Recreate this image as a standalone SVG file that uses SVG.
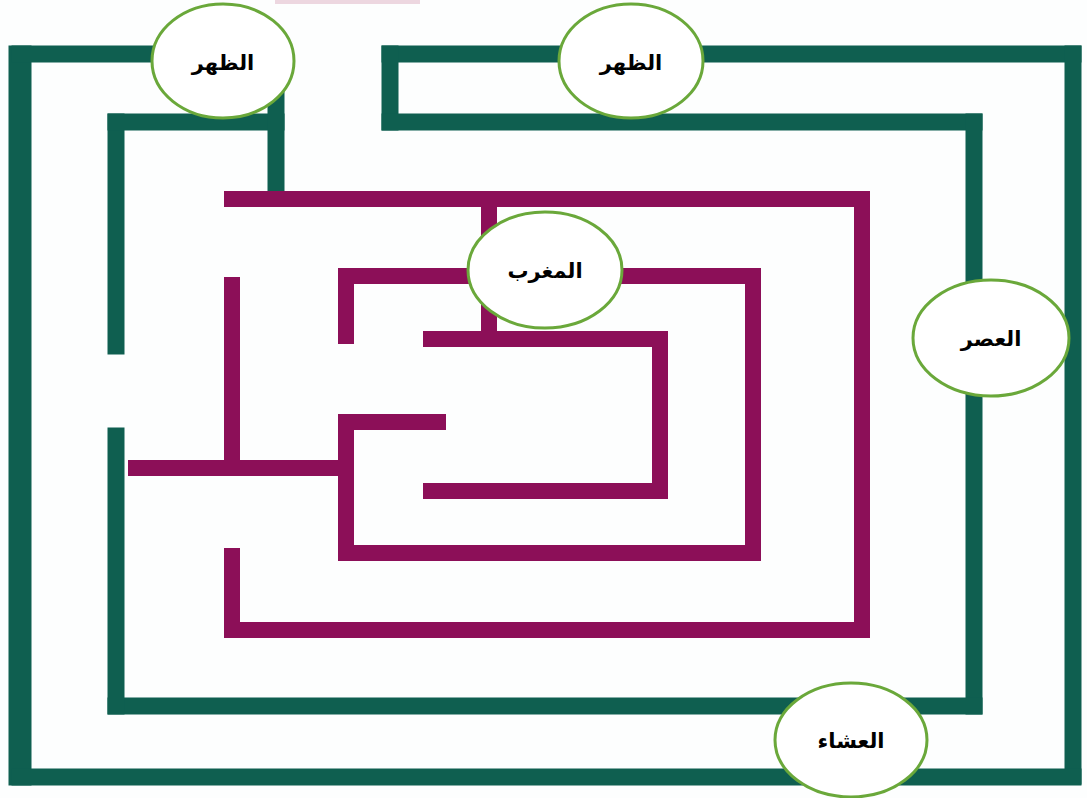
<svg xmlns="http://www.w3.org/2000/svg" width="1087" height="798" viewBox="0 0 1087 798">
<style>
.t{stroke:#0f5f50;stroke-width:17;fill:none;stroke-linecap:square}
.m{stroke:#8c0f58;stroke-width:16;fill:none;stroke-linecap:square}
.n ellipse{fill:#ffffff;stroke:#6aa83a;stroke-width:3}
.n text{font-family:"DejaVu Sans","Noto Sans",sans-serif;font-weight:bold;font-size:21px;fill:#000;text-anchor:middle;dominant-baseline:central}
</style>
<rect width="1087" height="798" fill="#fdfefe"/>
<rect x="275" y="0" width="145" height="4" fill="#e2bccb" opacity="0.6"/>
<g id="connectors">
<g id="teal-walls">
<line class="t" x1="20" y1="57" x2="20" y2="774" style="stroke-width:23"/>
<line class="t" x1="20" y1="54" x2="280" y2="54"/>
<line class="t" x1="390" y1="54" x2="1073" y2="54"/>
<line class="t" x1="1073" y1="54" x2="1073" y2="776"/>
<line class="t" x1="20" y1="777" x2="1073" y2="777"/>
<line class="t" x1="390" y1="54" x2="390" y2="122"/>
<line class="t" x1="390" y1="122" x2="974" y2="122"/>
<line class="t" x1="974" y1="122" x2="974" y2="706"/>
<line class="t" x1="116" y1="706" x2="974" y2="706"/>
<line class="t" x1="116" y1="436" x2="116" y2="706"/>
<line class="t" x1="116" y1="122" x2="116" y2="346"/>
<line class="t" x1="116" y1="122" x2="276" y2="122"/>
<line class="t" x1="276" y1="54" x2="276" y2="190"/>
</g>
<g id="magenta-walls">
<line class="m" x1="232" y1="199" x2="862" y2="199"/>
<line class="m" x1="862" y1="199" x2="862" y2="630"/>
<line class="m" x1="232" y1="630" x2="862" y2="630"/>
<line class="m" x1="232" y1="556" x2="232" y2="630"/>
<line class="m" x1="232" y1="285" x2="232" y2="468"/>
<line class="m" x1="136" y1="468" x2="346" y2="468"/>
<line class="m" x1="346" y1="276" x2="753" y2="276"/>
<line class="m" x1="346" y1="276" x2="346" y2="336"/>
<line class="m" x1="753" y1="276" x2="753" y2="553"/>
<line class="m" x1="346" y1="553" x2="753" y2="553"/>
<line class="m" x1="346" y1="422" x2="346" y2="553"/>
<line class="m" x1="346" y1="422" x2="438" y2="422"/>
<line class="m" x1="489" y1="199" x2="489" y2="339"/>
<line class="m" x1="431" y1="339" x2="660" y2="339"/>
<line class="m" x1="660" y1="339" x2="660" y2="491"/>
<line class="m" x1="431" y1="491" x2="660" y2="491"/>
</g>
</g>
<g id="node-dhuhr-1" class="n">
<ellipse cx="223" cy="61" rx="71" ry="57"/>
<text x="223" y="63">الظهر</text>
</g>
<g id="node-dhuhr-2" class="n">
<ellipse cx="631" cy="61" rx="72" ry="57"/>
<text x="631" y="63">الظهر</text>
</g>
<g id="node-maghrib" class="n">
<ellipse cx="545" cy="270" rx="77" ry="58"/>
<text x="545" y="271">المغرب</text>
</g>
<g id="node-asr" class="n">
<ellipse cx="991" cy="338" rx="78" ry="58"/>
<text x="991" y="339">العصر</text>
</g>
<g id="node-isha" class="n">
<ellipse cx="851" cy="740" rx="76" ry="57"/>
<text x="851" y="741">العشاء</text>
</g>
</svg>
